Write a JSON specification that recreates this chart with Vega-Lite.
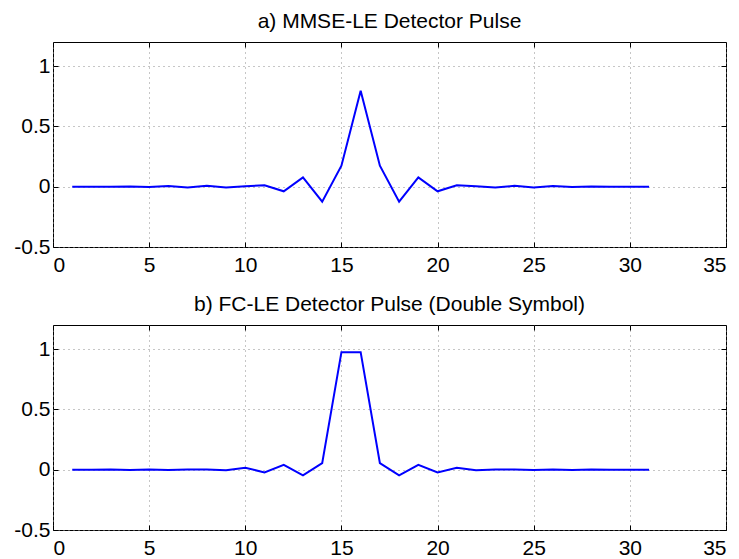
{
  "$schema": "https://vega.github.io/schema/vega-lite/v6.json",
  "padding": {"left": 12, "top": 10, "right": 5, "bottom": 0},
  "spacing": 15,
  "config": {
    "font": "Liberation Sans",
    "view": {"stroke": "#000000", "strokeWidth": 1},
    "title": {"fontSize": 21, "fontWeight": "normal", "color": "#000000", "offset": 10},
    "axis": {"domain": false, "labelFont": "Liberation Sans", "labelFontSize": 21, "labelColor": "#000000", "tickColor": "#000000", "tickSize": -5, "gridColor": "#8c8c8c", "gridDash": [1, 4], "gridWidth": 1, "title": null}
  },
  "datasets": {
    "a": [
      {"n": 1, "v": 0}, {"n": 2, "v": 0}, {"n": 3, "v": 0}, {"n": 4, "v": 0.002}, {"n": 5, "v": -0.003},
      {"n": 6, "v": 0.005}, {"n": 7, "v": -0.006}, {"n": 8, "v": 0.007}, {"n": 9, "v": -0.006}, {"n": 10, "v": 0.003},
      {"n": 11, "v": 0.012}, {"n": 12, "v": -0.038}, {"n": 13, "v": 0.077}, {"n": 14, "v": -0.124}, {"n": 15, "v": 0.174},
      {"n": 16, "v": 0.796}, {"n": 17, "v": 0.174}, {"n": 18, "v": -0.124}, {"n": 19, "v": 0.077}, {"n": 20, "v": -0.038},
      {"n": 21, "v": 0.012}, {"n": 22, "v": 0.003}, {"n": 23, "v": -0.006}, {"n": 24, "v": 0.007}, {"n": 25, "v": -0.006},
      {"n": 26, "v": 0.005}, {"n": 27, "v": -0.003}, {"n": 28, "v": 0.002}, {"n": 29, "v": 0}, {"n": 30, "v": 0}, {"n": 31, "v": 0}
    ],
    "b": [
      {"n": 1, "v": 0}, {"n": 2, "v": 0}, {"n": 3, "v": 0.001}, {"n": 4, "v": -0.002}, {"n": 5, "v": 0.002},
      {"n": 6, "v": -0.002}, {"n": 7, "v": 0.001}, {"n": 8, "v": 0.001}, {"n": 9, "v": -0.005}, {"n": 10, "v": 0.016},
      {"n": 11, "v": -0.022}, {"n": 12, "v": 0.041}, {"n": 13, "v": -0.047}, {"n": 14, "v": 0.055}, {"n": 15, "v": 0.975},
      {"n": 16, "v": 0.975}, {"n": 17, "v": 0.055}, {"n": 18, "v": -0.047}, {"n": 19, "v": 0.041}, {"n": 20, "v": -0.022},
      {"n": 21, "v": 0.016}, {"n": 22, "v": -0.005}, {"n": 23, "v": 0.001}, {"n": 24, "v": 0.001}, {"n": 25, "v": -0.002},
      {"n": 26, "v": 0.002}, {"n": 27, "v": -0.002}, {"n": 28, "v": 0.001}, {"n": 29, "v": 0}, {"n": 30, "v": 0}, {"n": 31, "v": 0}
    ]
  },
  "vconcat": [
    {
      "width": 673, "height": 205,
      "title": "a) MMSE-LE Detector Pulse",
      "data": {"name": "a"},
      "layer": [
        {
          "mark": {"type": "line", "color": "#0000ff", "strokeWidth": 2},
          "encoding": {
            "x": {"field": "n", "type": "quantitative", "scale": {"domain": [0, 35], "nice": false, "zero": false},
                  "axis": {"orient": "bottom", "values": [0, 5, 10, 15, 20, 25, 30, 35], "grid": true, "labelPadding": 12, "minExtent": 30, "maxExtent": 30}},
            "y": {"field": "v", "type": "quantitative", "scale": {"domain": [-0.5, 1.2], "nice": false, "zero": false},
                  "axis": {"orient": "left", "values": [-0.5, 0, 0.5, 1], "grid": true, "labelPadding": 8, "labelExpr": "datum.value + ''", "minExtent": 40, "maxExtent": 40}}
          }
        },
        {
          "mark": {"type": "line", "opacity": 0},
          "encoding": {
            "x": {"field": "n", "type": "quantitative", "scale": {"domain": [0, 35], "nice": false, "zero": false},
                  "axis": {"orient": "top", "values": [0, 5, 10, 15, 20, 25, 30, 35], "grid": false, "labels": false, "minExtent": 0, "maxExtent": 0}},
            "y": {"field": "v", "type": "quantitative", "scale": {"domain": [-0.5, 1.2], "nice": false, "zero": false},
                  "axis": {"orient": "right", "values": [-0.5, 0, 0.5, 1], "grid": false, "labels": false, "minExtent": 0, "maxExtent": 0}}
          }
        }
      ],
      "resolve": {"axis": {"x": "independent", "y": "independent"}}
    },
    {
      "width": 673, "height": 205,
      "title": "b) FC-LE Detector Pulse (Double Symbol)",
      "data": {"name": "b"},
      "layer": [
        {
          "mark": {"type": "line", "color": "#0000ff", "strokeWidth": 2},
          "encoding": {
            "x": {"field": "n", "type": "quantitative", "scale": {"domain": [0, 35], "nice": false, "zero": false},
                  "axis": {"orient": "bottom", "values": [0, 5, 10, 15, 20, 25, 30, 35], "grid": true, "labelPadding": 12, "minExtent": 30, "maxExtent": 30}},
            "y": {"field": "v", "type": "quantitative", "scale": {"domain": [-0.5, 1.2], "nice": false, "zero": false},
                  "axis": {"orient": "left", "values": [-0.5, 0, 0.5, 1], "grid": true, "labelPadding": 8, "labelExpr": "datum.value + ''", "minExtent": 40, "maxExtent": 40}}
          }
        },
        {
          "mark": {"type": "line", "opacity": 0},
          "encoding": {
            "x": {"field": "n", "type": "quantitative", "scale": {"domain": [0, 35], "nice": false, "zero": false},
                  "axis": {"orient": "top", "values": [0, 5, 10, 15, 20, 25, 30, 35], "grid": false, "labels": false, "minExtent": 0, "maxExtent": 0}},
            "y": {"field": "v", "type": "quantitative", "scale": {"domain": [-0.5, 1.2], "nice": false, "zero": false},
                  "axis": {"orient": "right", "values": [-0.5, 0, 0.5, 1], "grid": false, "labels": false, "minExtent": 0, "maxExtent": 0}}
          }
        }
      ],
      "resolve": {"axis": {"x": "independent", "y": "independent"}}
    }
  ]
}
